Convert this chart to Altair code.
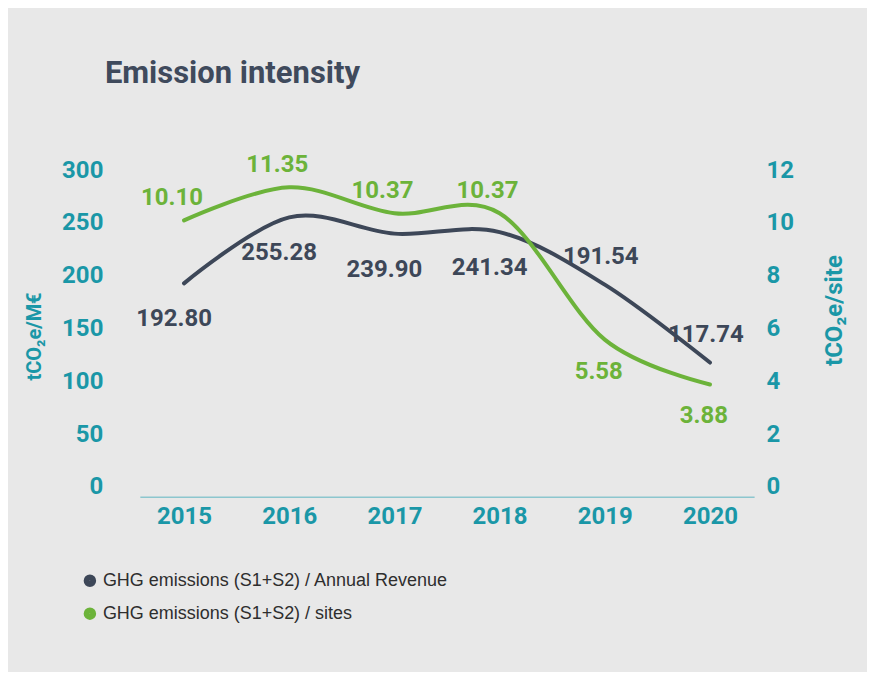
import altair as alt
import pandas as pd

years = ["2015", "2016", "2017", "2018", "2019", "2020"]
revenue_intensity = [192.80, 255.28, 239.90, 241.34, 191.54, 117.74]
site_intensity = [10.10, 11.35, 10.37, 10.37, 5.58, 3.88]
series_names = ["GHG emissions (S1+S2) / Annual Revenue", "GHG emissions (S1+S2) / sites"]
left_ticks = [0, 50, 100, 150, 200, 250, 300]
right_ticks = [0, 2, 4, 6, 8, 10, 12]

DARK = "#3d4758"
GREEN = "#6cb33a"
TEAL = "#1a97a7"
BG = "#e8e8e8"
FONT = "Roboto"

rev = pd.DataFrame({"year": years, "value": revenue_intensity, "series": series_names[0],
                    "label": [f"{v:.2f}" for v in revenue_intensity], "idx": range(6)})
site = pd.DataFrame({"year": years, "value": site_intensity, "series": series_names[1],
                     "label": [f"{v:.2f}" for v in site_intensity], "idx": range(6)})

x = alt.X("year:O", scale=alt.Scale(type="point", padding=0.42),
          axis=alt.Axis(title=None, labelAngle=0, domain=True, domainColor="#8cc6ce",
                        domainWidth=1.5, ticks=False, offset=10, labelPadding=8,
                        labelColor=TEAL, labelFont=FONT, labelFontWeight="bold",
                        labelFontSize=24, grid=False))

color = alt.Color("series:N", scale=alt.Scale(domain=series_names, range=[DARK, GREEN]),
                  legend=alt.Legend(title=None, orient="none", legendX=-59, legendY=402,
                                    symbolType="circle", symbolSize=36, symbolStrokeWidth=6.5,
                                    labelFont="Liberation Sans", labelFontSize=18, labelLimit=0,
                                    labelColor="#2e2e2e", labelOffset=4, rowPadding=1,
                                    padding=0))

y_left = alt.Y("value:Q", scale=alt.Scale(domain=[0, 300], nice=False),
               axis=alt.Axis(title="tCO₂e/M€", values=left_ticks, domain=False, ticks=False,
                             grid=False, labelColor=TEAL, labelFont=FONT, labelFontWeight="bold",
                             labelFontSize=24, labelPadding=37, titleColor=TEAL, titleFont=FONT,
                             titleFontWeight="bold", titleFontSize=20, titleAngle=-90,
                             titleX=-105, titleY=166, titleAlign="center", titleBaseline="middle"))

y_right = alt.Y("value:Q", scale=alt.Scale(domain=[0, 12], nice=False),
                axis=alt.Axis(title="tCO₂e/site", orient="right", values=right_ticks, domain=False,
                              ticks=False, grid=False, labelColor=TEAL, labelFont=FONT,
                              labelFontWeight="bold", labelFontSize=24, labelPadding=12,
                              titleColor=TEAL, titleFont=FONT, titleFontWeight="bold",
                              titleFontSize=24, titleAngle=-90, titleX=80, titleY=140,
                              titleAlign="center", titleBaseline="middle"))

text_style = dict(font=FONT, fontWeight="bold", fontSize=24, baseline="middle")

rev_line = alt.Chart(rev).mark_line(interpolate="cardinal", strokeWidth=4, strokeCap="round").encode(
    x=x, y=y_left, color=color)
rev_below = alt.Chart(rev).transform_filter("datum.idx <= 3").mark_text(
    dy=36, dx=-10, color=DARK, **text_style).encode(x=x, y=y_left, text="label:N")
rev_above = alt.Chart(rev).transform_filter("datum.idx > 3").mark_text(
    dy=-28, dx=-4, color=DARK, **text_style).encode(x=x, y=y_left, text="label:N")

site_line = alt.Chart(site).mark_line(interpolate="cardinal", strokeWidth=4, strokeCap="round").encode(
    x=x, y=y_right, color=color)
site_above = alt.Chart(site).transform_filter("datum.idx <= 3").mark_text(
    dy=-22, dx=-12, color=GREEN, **text_style).encode(x=x, y=y_right, text="label:N")
site_below = alt.Chart(site).transform_filter("datum.idx > 3").mark_text(
    dy=32, dx=-6, color=GREEN, **text_style).encode(x=x, y=y_right, text="label:N")

left = alt.layer(rev_line, rev_below, rev_above)
right = alt.layer(site_line, site_above, site_below)

chart = alt.layer(left, right).resolve_scale(y="independent").properties(
    width=615, height=317,
    autosize=alt.AutoSizeParams(type="none"),
    padding={"left": 132, "top": 162, "right": 113, "bottom": 185},
    background=BG,
    title=alt.Title("Emission intensity", anchor="start", frame="group", dx=-35, offset=63,
                    font=FONT, fontWeight="bold", fontSize=31, color="#3f4a5c"),
).configure_view(stroke=None)

chart.save("out.html", embed_options={"renderer": "svg", "actions": False})
